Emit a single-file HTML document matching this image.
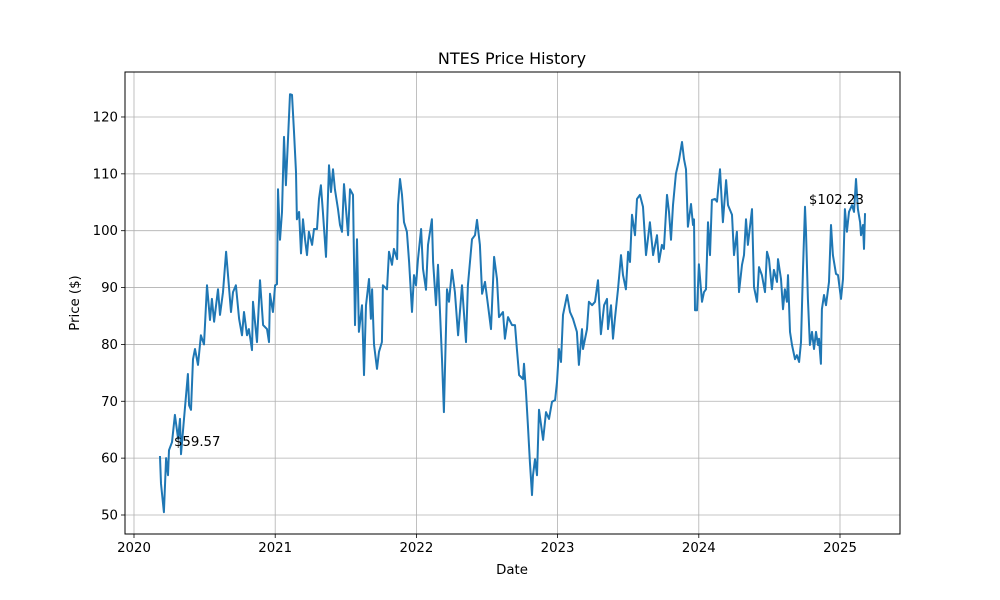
<!DOCTYPE html>
<html><head><meta charset="utf-8"><style>
html,body{margin:0;padding:0;background:#fff;}
svg{display:block;font-family:"DejaVu Sans","Liberation Sans",sans-serif;}
</style></head><body>
<svg id="chart" width="1000" height="600" viewBox="0 0 1000 600">
<rect x="0" y="0" width="1000" height="600" fill="#fff"/>
<g id="grid"></g>
<g id="series"></g>
<g id="annots"></g>
<rect x="125" y="72" width="775" height="462" fill="none" stroke="#000" stroke-width="1"/>
<g id="xticks"></g>
<g id="yticks"></g>
<text x="512" y="64" font-size="16" text-anchor="middle">NTES Price History</text>
<text x="512" y="574" font-size="13.3" text-anchor="middle">Date</text>
<text x="79" y="303" font-size="13.3" text-anchor="middle" transform="rotate(-90 79 303)">Price ($)</text>
</svg>
<script>
const dates = [2020.184,2020.191,2020.212,2020.227,2020.241,2020.248,2020.269,2020.290,2020.312,2020.326,2020.333,2020.354,2020.382,2020.390,2020.404,2020.418,2020.432,2020.453,2020.474,2020.496,2020.517,2020.538,2020.552,2020.567,2020.595,2020.609,2020.630,2020.652,2020.666,2020.687,2020.701,2020.722,2020.744,2020.765,2020.779,2020.800,2020.814,2020.836,2020.843,2020.871,2020.892,2020.914,2020.942,2020.956,2020.963,2020.984,2020.999,2021.013,2021.020,2021.034,2021.048,2021.062,2021.076,2021.091,2021.105,2021.119,2021.133,2021.147,2021.154,2021.169,2021.183,2021.197,2021.211,2021.225,2021.239,2021.261,2021.275,2021.296,2021.310,2021.324,2021.338,2021.360,2021.381,2021.395,2021.409,2021.423,2021.445,2021.459,2021.473,2021.487,2021.516,2021.530,2021.551,2021.565,2021.579,2021.593,2021.615,2021.629,2021.643,2021.664,2021.678,2021.686,2021.700,2021.721,2021.735,2021.756,2021.763,2021.792,2021.806,2021.827,2021.841,2021.863,2021.870,2021.884,2021.898,2021.912,2021.933,2021.948,2021.969,2021.983,2021.997,2022.011,2022.033,2022.047,2022.068,2022.082,2022.110,2022.118,2022.139,2022.153,2022.181,2022.195,2022.217,2022.231,2022.252,2022.273,2022.295,2022.323,2022.351,2022.365,2022.394,2022.415,2022.429,2022.450,2022.465,2022.486,2022.507,2022.528,2022.550,2022.571,2022.585,2022.613,2022.627,2022.649,2022.677,2022.698,2022.712,2022.727,2022.755,2022.762,2022.776,2022.790,2022.804,2022.819,2022.826,2022.840,2022.854,2022.868,2022.897,2022.918,2022.939,2022.960,2022.982,2022.996,2023.010,2023.024,2023.038,2023.067,2023.088,2023.109,2023.137,2023.151,2023.173,2023.180,2023.208,2023.222,2023.244,2023.265,2023.286,2023.307,2023.329,2023.350,2023.357,2023.378,2023.392,2023.406,2023.428,2023.449,2023.463,2023.484,2023.499,2023.513,2023.527,2023.548,2023.562,2023.583,2023.605,2023.626,2023.654,2023.676,2023.704,2023.718,2023.739,2023.753,2023.775,2023.789,2023.803,2023.817,2023.838,2023.860,2023.881,2023.895,2023.909,2023.923,2023.945,2023.959,2023.966,2023.973,2023.987,2024.001,2024.023,2024.037,2024.051,2024.065,2024.079,2024.093,2024.115,2024.129,2024.150,2024.171,2024.193,2024.207,2024.235,2024.249,2024.270,2024.285,2024.306,2024.320,2024.334,2024.348,2024.377,2024.391,2024.412,2024.426,2024.447,2024.469,2024.483,2024.497,2024.518,2024.532,2024.554,2024.561,2024.582,2024.596,2024.610,2024.624,2024.632,2024.646,2024.660,2024.681,2024.695,2024.710,2024.724,2024.738,2024.752,2024.759,2024.773,2024.787,2024.802,2024.816,2024.830,2024.844,2024.851,2024.865,2024.872,2024.887,2024.901,2024.922,2024.936,2024.950,2024.972,2024.986,2025.007,2025.021,2025.035,2025.049,2025.064,2025.085,2025.099,2025.113,2025.127,2025.142,2025.149,2025.163,2025.170,2025.177];
const prices = [60.2,55.5,50.5,60,57,61.4,62.8,67.6,63.4,66.9,60.7,66.9,74.8,69.3,68.5,77.4,79.2,76.4,81.6,80,90.4,84.3,88,84,89.7,85.2,89.2,96.3,92.2,85.7,89.2,90.4,84.5,81.6,85.7,81.6,82.7,79,87.5,80.4,91.3,83.4,82.7,80.4,88.9,85.7,90.4,90.6,107.3,98.4,103.3,116.5,108,116.1,124,123.9,117.4,110.3,102,103.3,96,102,98.5,95.7,99.8,97.5,100.3,100.3,105.6,108,103.3,95.4,111.5,106.8,110.8,107.3,103.8,101,99.8,108.2,99.2,107.3,106.3,83.4,98.5,82.2,86.9,74.6,86.9,91.5,84.5,89.7,80,75.7,78.7,80.4,90.4,89.7,96.3,94,96.8,95,104.5,109.1,106.3,101.5,99.8,94.5,85.7,92.2,90.4,95,100.3,93.3,89.6,97.5,102,94.5,86.9,94,77.4,68.1,89.7,87.5,93.1,89.2,81.6,90.4,80.4,90.4,98.5,99.2,101.9,97.5,88.9,91,86.9,82.7,95.4,91.5,84.8,85.7,81,84.8,83.4,83.4,79.2,74.6,73.9,76.6,71.6,65.8,59.3,53.5,57,59.8,57,68.5,63.2,68.1,66.9,69.9,70.2,73.4,79.2,76.9,85.2,88.7,85.7,84.5,82.2,76.4,82.7,79.2,82.7,87.5,86.9,87.5,91.3,81.8,86.9,88,82.7,86.9,81,84.5,89.7,95.7,92.2,89.7,96.3,94.5,102.8,99.2,105.6,106.3,104.2,95.7,101.5,95.7,99.2,94.5,97.5,96.8,106.3,103.3,98.4,104.5,110,112.4,115.6,112.6,110.8,100.7,104.7,101,102,86,86,94.1,87.5,89.2,89.7,101.5,95.7,105.4,105.6,105.1,110.8,101.5,108.9,104.5,102.8,95.7,99.8,89.2,94,95.7,102,97.5,103.8,90.1,87.5,93.6,92.2,89.2,96.3,95,89.7,93.1,91,95,91.5,86.2,89.7,87.5,92.2,82.2,79.9,77.4,78.1,76.9,80.4,93.3,104.2,99.8,88,79.9,82.2,79.2,82.2,79.9,81,76.6,86.2,88.7,86.9,91,101,95.7,92.4,92.2,88,91.5,103.8,99.8,103.3,104.5,103.3,109.1,103.8,101.5,99.2,101,96.8,102.9];
const xTickYears = [2020,2021,2022,2023,2024,2025];
const xTickLabels = ["2020","2021","2022","2023","2024","2025"];
const yTickValues = [50,60,70,80,90,100,110,120];
const annotLabels = ["$59.57","$102.23"];
const annotDates = [2020.283,2024.780];
const annotPrices = [62.1,104.7];

const NS = "http://www.w3.org/2000/svg";
const L = 125, R = 900, T = 72, B = 534;
function xScale(yr){ return 134 + (yr - 2020) * 141.2; }
function yScale(v){ return 515 - (v - 50) * 5.686; }
function mk(tag, attrs, parent){
  const el = document.createElementNS(NS, tag);
  for (const k in attrs) el.setAttribute(k, attrs[k]);
  parent.appendChild(el);
  return el;
}
const grid = document.getElementById('grid');
const xt = document.getElementById('xticks');
const yt = document.getElementById('yticks');
xTickYears.forEach((yr, i) => {
  const x = xScale(yr);
  const g = mk('line', {x1:x, x2:x, y1:T, y2:B, stroke:'#b0b0b0', 'stroke-width':0.8}, grid);
  
  
  const tk = mk('line', {x1:x, x2:x, y1:B, y2:B+4, stroke:'#000', 'stroke-width':0.8}, xt);
  
  
  const t = mk('text', {x:x, y:B+18, 'font-size':13.3, 'text-anchor':'middle'}, xt);
  t.textContent = xTickLabels[i];
  
  
});
yTickValues.forEach(v => {
  const y = yScale(v);
  const g = mk('line', {x1:L, x2:R, y1:y, y2:y, stroke:'#b0b0b0', 'stroke-width':0.8}, grid);
  
  
  const tk = mk('line', {x1:L-4, x2:L, y1:y, y2:y, stroke:'#000', 'stroke-width':0.8}, yt);
  
  
  const t = mk('text', {x:L-7, y:y+4.5, 'font-size':13.3, 'text-anchor':'end'}, yt);
  t.textContent = String(v);
  
  
});
const pts = dates.map((d, i) => xScale(d).toFixed(1) + ',' + yScale(prices[i]).toFixed(1)).join(' ');
const line = mk('polyline', {points:pts, fill:'none', stroke:'#1f77b4', 'stroke-width':2, 'stroke-linejoin':'round', 'stroke-linecap':'square'}, document.getElementById('series'));


annotLabels.forEach((lab, i) => {
  const t = mk('text', {x:xScale(annotDates[i]), y:yScale(annotPrices[i]), 'font-size':13.3}, document.getElementById('annots'));
  t.textContent = lab;
  
  
});
</script>
</body></html>
